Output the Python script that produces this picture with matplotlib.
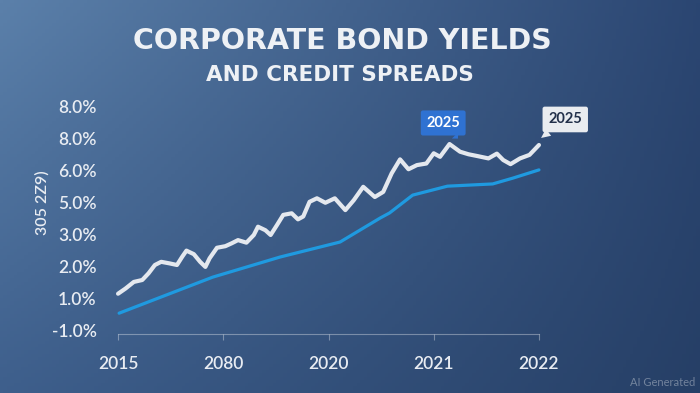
import numpy as np
import matplotlib
matplotlib.use("Agg")
import matplotlib.pyplot as plt

# etiquetas tal como aparecen en la imagen
x_labels = ["2015", "2080", "2020", "2021", "2022"]
y_labels = ["-1.0%", "1.0%", "2.0%", "3.0%", "5.0%", "6.0%", "8.0%", "8.0%"]

# rendimiento de bonos corporativos (linea blanca), en posiciones de eje
bond_x = [0.00, 0.07, 0.15, 0.23, 0.29, 0.35, 0.41, 0.49, 0.56, 0.61, 0.65,
          0.72, 0.78, 0.83, 0.87, 0.94, 1.02, 1.08, 1.14, 1.22, 1.29, 1.33,
          1.40, 1.45, 1.51, 1.57, 1.65, 1.71, 1.76, 1.82, 1.89, 1.97, 2.06,
          2.16, 2.24, 2.33, 2.44, 2.52, 2.60, 2.68, 2.76, 2.84, 2.93, 3.00,
          3.06, 3.15, 3.25, 3.33, 3.42, 3.52, 3.60, 3.66, 3.73, 3.82, 3.91,
          4.00]
bond_y = [1.14, 1.30, 1.51, 1.57, 1.78, 2.04, 2.14, 2.09, 2.04, 2.30, 2.49,
          2.38, 2.14, 1.98, 2.25, 2.58, 2.63, 2.72, 2.82, 2.74, 2.98, 3.24,
          3.13, 2.98, 3.29, 3.61, 3.66, 3.47, 3.56, 4.02, 4.13, 3.99, 4.13,
          3.76, 4.07, 4.49, 4.17, 4.33, 4.91, 5.35, 5.04, 5.17, 5.22, 5.54,
          5.43, 5.83, 5.59, 5.51, 5.45, 5.38, 5.53, 5.33, 5.20, 5.38, 5.49,
          5.80]

# spread de credito (linea azul)
spread_x = [0.01, 0.90, 1.54, 2.11, 2.49, 2.58, 2.80, 3.13, 3.56, 3.75, 4.00]
spread_y = [0.53, 1.66, 2.29, 2.76, 3.51, 3.67, 4.23, 4.51, 4.58, 4.76, 5.02]

W, H = 700, 393
fig = plt.figure(figsize=(W / 100, H / 100), dpi=100)

# fondo degradado
bg = fig.add_axes([0, 0, 1, 1])
tl = np.array([91, 128, 170]) / 255
tr = np.array([43, 70, 114]) / 255
bl = np.array([62, 95, 140]) / 255
br = np.array([38, 63, 102]) / 255
u = np.linspace(0, 1, 200)[None, :, None]
v = np.linspace(0, 1, 120)[:, None, None]
grad = (1 - v) * ((1 - u) * tl + u * tr) + v * ((1 - u) * bl + u * br)
bg.imshow(grad, aspect="auto", extent=[0, 1, 0, 1])
bg.axis("off")

ax = fig.add_axes([105 / W, 1 - 340 / H, 447 / W, 240 / H])
ax.set_facecolor("none")

ax.plot(spread_x, spread_y, color="#1f9ae0", lw=2.3, solid_capstyle="round", zorder=3)
ax.plot(bond_x, bond_y, color="#e4e8ee", lw=3.0, solid_joinstyle="round",
        solid_capstyle="round", zorder=4)

ax.set_xlim(-0.124, 4.124)
ax.set_ylim(-0.31, 7.21)

for s in ["top", "right", "left"]:
    ax.spines[s].set_visible(False)
ax.spines["bottom"].set_position(("data", -0.13))
ax.spines["bottom"].set_bounds(0, 4)
ax.spines["bottom"].set_color((1, 1, 1, 0.35))
ax.spines["bottom"].set_linewidth(0.8)

ax.set_xticks(range(len(x_labels)))
ax.set_xticklabels(x_labels)
ax.set_yticks(range(len(y_labels)))
ax.set_yticklabels(y_labels)
ax.tick_params(axis="x", colors=(1, 1, 1, 0.35), length=4, width=0.8, pad=12,
               labelcolor="#e8ecf2", labelsize=12.5)
ax.tick_params(axis="y", length=0, pad=6, labelcolor="#e8ecf2", labelsize=12.5)
for t in ax.get_xticklabels() + ax.get_yticklabels():
    t.set_fontfamily("Lato")
    t.set_fontweight("semibold")

# globos de texto
ax.annotate("2025", xy=(3.23, 6.0), xytext=(3.09, 6.49), ha="center", va="center",
            fontsize=10.5, fontweight="bold", color="white", family="Lato",
            bbox=dict(boxstyle="round,pad=0.38,rounding_size=0.15", fc="#2f72d2", ec="none"),
            arrowprops=dict(arrowstyle="wedge,tail_width=0.6", fc="#2f72d2", ec="none",
                            shrinkA=0, shrinkB=0), zorder=6)
ax.annotate("2025", xy=(4.02, 6.02), xytext=(4.25, 6.6), ha="center", va="center",
            fontsize=10.5, fontweight="bold", color="#22304a", family="Lato",
            bbox=dict(boxstyle="round,pad=0.4,rounding_size=0.15", fc="#e9ecf0", ec="none"),
            arrowprops=dict(arrowstyle="wedge,tail_width=0.6", fc="#e9ecf0", ec="none",
                            shrinkA=0, shrinkB=0), annotation_clip=False, zorder=6)

fig.text(342 / W, 1 - 41 / H, "CORPORATE BOND YIELDS", ha="center", va="center",
         fontsize=20.5, fontweight="bold", color="#eef1f5", family="DejaVu Sans")
fig.text(340 / W, 1 - 75 / H, "AND CREDIT SPREADS", ha="center", va="center",
         fontsize=15.5, fontweight="bold", color="#eef1f5", family="DejaVu Sans")
fig.text(42 / W, 1 - 203 / H, "305 2Z9)", rotation=90, ha="center", va="center",
         fontsize=11.5, fontweight="semibold", color="#e8ecf2", family="Lato")
fig.text(695 / W, 1 - 382 / H, "AI Generated", ha="right", va="center",
         fontsize=8, color=(1, 1, 1, 0.35), family="Lato")

fig.savefig("out.png", dpi=100)
